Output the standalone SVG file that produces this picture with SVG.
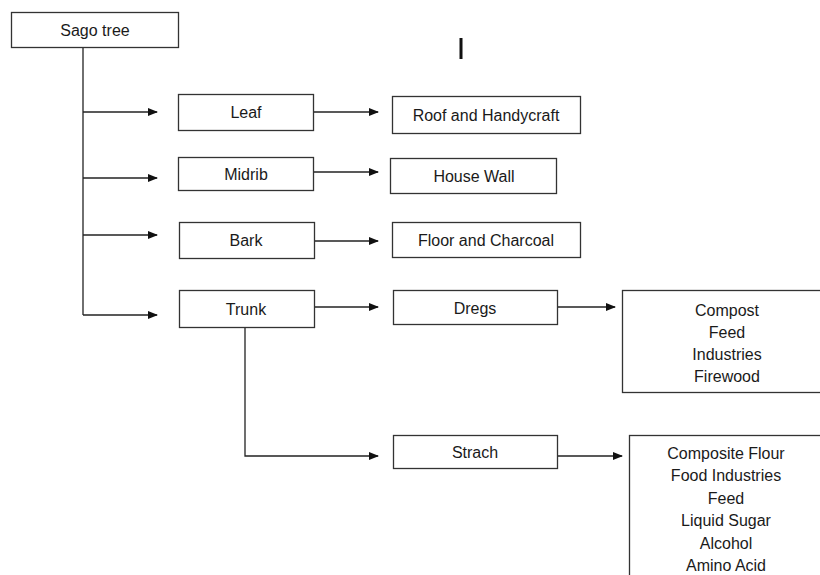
<svg xmlns="http://www.w3.org/2000/svg" width="820" height="575" viewBox="0 0 820 575">
<style>
.box{fill:#fff;stroke:#333;stroke-width:1.3}
.t{font-family:"Liberation Sans",Arial,sans-serif;font-size:16px;fill:#1a1a1a;text-anchor:middle;dominant-baseline:central}
.c{fill:none;stroke:#222;stroke-width:1.3}
</style>
<defs>
<marker id="ah" markerWidth="10" markerHeight="8" refX="9" refY="4" orient="auto" markerUnits="userSpaceOnUse">
<path d="M0,0 L10,4 L0,8 Z" fill="#111"/>
</marker>
</defs>
<rect width="820" height="575" fill="#fff"/>
<rect x="459.5" y="38" width="3" height="21" fill="#111"/>
<g id="connectors">
<path class="c" d="M83,47 V315"/>
<path class="c" d="M83,112 H157" marker-end="url(#ah)"/>
<path class="c" d="M83,178 H157" marker-end="url(#ah)"/>
<path class="c" d="M83,235 H157" marker-end="url(#ah)"/>
<path class="c" d="M83,315 H157" marker-end="url(#ah)"/>
<path class="c" d="M313,112 H378" marker-end="url(#ah)"/>
<path class="c" d="M313,172 H378" marker-end="url(#ah)"/>
<path class="c" d="M314,241 H378" marker-end="url(#ah)"/>
<path class="c" d="M314,307 H378" marker-end="url(#ah)"/>
<path class="c" d="M557,307 H615" marker-end="url(#ah)"/>
<path class="c" d="M245,327 V456 H378" marker-end="url(#ah)"/>
<path class="c" d="M557,456 H622" marker-end="url(#ah)"/>
</g>
<g id="sago"><rect class="box" x="11.5" y="12.5" width="167" height="35"/><text class="t" x="95" y="30">Sago tree</text></g>
<g id="leaf"><rect class="box" x="178.5" y="94.5" width="135" height="36"/><text class="t" x="246" y="112">Leaf</text></g>
<g id="midrib"><rect class="box" x="178.5" y="157.5" width="135" height="33"/><text class="t" x="246" y="174">Midrib</text></g>
<g id="bark"><rect class="box" x="179.5" y="222.5" width="135" height="36"/><text class="t" x="246" y="240">Bark</text></g>
<g id="trunk"><rect class="box" x="179.5" y="290.5" width="135" height="37"/><text class="t" x="246" y="309">Trunk</text></g>
<g id="roof"><rect class="box" x="392.5" y="96.5" width="188" height="37"/><text class="t" x="486" y="115">Roof and Handycraft</text></g>
<g id="wall"><rect class="box" x="390.5" y="158.5" width="166" height="35"/><text class="t" x="474" y="176">House Wall</text></g>
<g id="floor"><rect class="box" x="392.5" y="222.5" width="188" height="35"/><text class="t" x="486" y="240">Floor and Charcoal</text></g>
<g id="dregs"><rect class="box" x="393.5" y="290.5" width="164" height="34"/><text class="t" x="475" y="308">Dregs</text></g>
<g id="strach"><rect class="box" x="393.5" y="435.5" width="164" height="33"/><text class="t" x="475" y="452">Strach</text></g>
<g id="dregsuses"><rect class="box" x="622.5" y="290.5" width="210" height="102"/>
<text class="t" x="727" y="310">Compost</text>
<text class="t" x="727" y="332">Feed</text>
<text class="t" x="727" y="354">Industries</text>
<text class="t" x="727" y="376">Firewood</text></g>
<g id="strachuses"><rect class="box" x="629.5" y="435.5" width="210" height="160"/>
<text class="t" x="726" y="453">Composite Flour</text>
<text class="t" x="726" y="475">Food Industries</text>
<text class="t" x="726" y="498">Feed</text>
<text class="t" x="726" y="520">Liquid Sugar</text>
<text class="t" x="726" y="543">Alcohol</text>
<text class="t" x="726" y="565">Amino Acid</text></g>
</svg>
